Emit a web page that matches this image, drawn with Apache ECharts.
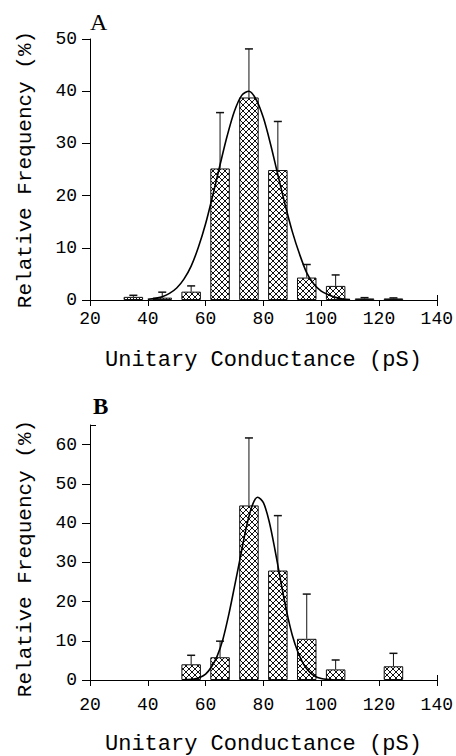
<!DOCTYPE html>
<html><head><meta charset="utf-8">
<script src="https://cdn.jsdelivr.net/npm/echarts@6/dist/echarts.min.js"></script>
<style>html,body{margin:0;padding:0;background:#fff;}#c{width:456px;height:756px;}</style>
</head><body><div id="c"></div>
<script>
// ---- data ----
const xTickValues = [20, 40, 60, 80, 100, 120, 140];
const yTickValuesA = [0, 10, 20, 30, 40, 50];
const yTickValuesB = [0, 10, 20, 30, 40, 50, 60];

const binsA = [35, 45, 55, 65, 75, 85, 95, 105, 115, 125];
const freqA = [0.6, 0.45, 1.6, 25.2, 38.8, 24.9, 4.3, 2.7, 0.3, 0.3];
const errTopA = [0.9, 1.5, 2.7, 35.9, 48.1, 34.2, 6.8, 4.8, 0.45, 0.4];

const binsB = [55, 65, 75, 85, 95, 105, 125];
const freqB = [4.0, 5.8, 44.5, 27.9, 10.5, 2.7, 3.5];
const errTopB = [6.3, 9.9, 61.7, 41.9, 21.9, 5.1, 6.8];

const fitXA = [40, 42.5, 45, 47.5, 50, 52.5, 55, 57.5, 60, 62.5, 65, 67.5, 70, 72.5, 75, 77.5, 80, 82.5, 85, 87.5, 90, 92.5, 95, 97.5, 100, 102.5, 105, 107.5, 110];
const fitYA = [0.14, 0.31, 0.64, 1.26, 2.3, 4.0, 6.5, 10.1, 14.6, 20.1, 25.9, 31.5, 36.2, 39.2, 40.0, 38.4, 34.9, 29.8, 24.0, 18.3, 13.1, 8.8, 5.2, 3.0, 1.7, 1.0, 0.5, 0.2, 0.1];

const fitXB = [52, 54, 56, 58, 60, 62, 64, 66, 68, 70, 72, 74, 76, 78, 80, 82, 84, 86, 88, 90, 92, 94, 96, 98, 100, 102, 104];
const fitYB = [0.03, 0.09, 0.25, 0.65, 1.5, 3.3, 6.1, 10.4, 16.6, 23.8, 31.2, 38.6, 44.2, 46.6, 45.2, 40.4, 33.2, 25.2, 17.6, 11.4, 7.0, 3.9, 2.0, 0.9, 0.4, 0.15, 0.05];

const xTitle = 'Unitary Conductance (pS)';
const yTitle = 'Relative Frequency (%)';
const panelLabels = ['A', 'B'];

// ---- hatch pattern ----
function hatch() {
  const s = 6, c = document.createElement('canvas');
  c.width = s; c.height = s;
  const g = c.getContext('2d');
  g.fillStyle = '#fff'; g.fillRect(0, 0, s, s);
  g.strokeStyle = '#111'; g.lineWidth = 1;
  g.beginPath();
  for (let k = -1; k <= 1; k++) {
    g.moveTo(k * s, 0); g.lineTo(k * s + s, s);
    g.moveTo(k * s + s, 0); g.lineTo(k * s, s);
  }
  g.stroke();
  return c.toDataURL();
}
const pat = { image: hatch(), repeat: 'repeat', imageWidth: 6, imageHeight: 6 };

const MONO = "'Liberation Mono', monospace";
const SERIF = "'Liberation Serif', serif";
const black = '#000';

function xAx(grid, margin, gap) {
  return {
    gridIndex: grid, type: 'value', position: 'bottom', min: 20, max: 140, interval: 20,
    axisLine: { show: true, lineStyle: { color: black, width: 1 } },
    axisTick: { show: true, length: 6, lineStyle: { color: black, width: 1 }, customValues: xTickValues },
    axisLabel: { margin: margin, fontFamily: MONO, fontSize: 18, color: black, customValues: xTickValues },
    splitLine: { show: false },
    name: xTitle, nameLocation: 'middle', nameGap: gap,
    nameTextStyle: { fontFamily: MONO, fontSize: 22, color: black }
  };
}
function xExtra(grid) {
  return { gridIndex: grid, type: 'value', position: 'bottom', min: 20, max: 140,
    axisLine: { show: false }, axisLabel: { show: false }, splitLine: { show: false },
    axisTick: { show: true, inside: true, length: 5, lineStyle: { color: black }, customValues: [140] } };
}
function yAx(grid, max, ticks, pad) {
  return {
    gridIndex: grid, type: 'value', position: 'left', min: 0, max: max, interval: 10,
    axisLine: { show: true, lineStyle: { color: black, width: 1 } },
    axisTick: { show: true, length: 8, lineStyle: { color: black, width: 1 }, customValues: ticks },
    axisLabel: { margin: 13, fontFamily: MONO, fontSize: 18, color: black, customValues: ticks },
    splitLine: { show: false },
    name: yTitle, nameLocation: 'middle', nameGap: 54, nameRotate: 90,
    nameTextStyle: { fontFamily: MONO, fontSize: 21, color: black, padding: pad }
  };
}
function errSeries(xi, yi, bins, freq, tops) {
  return {
    type: 'custom', xAxisIndex: xi, yAxisIndex: yi, z: 3,
    encode: { x: 0, y: 2 },
    data: bins.map((x, i) => [x, freq[i], tops[i]]),
    renderItem: function (p, api) {
      const x = api.value(0);
      const lo = api.coord([x, api.value(1)]);
      const hi = api.coord([x, api.value(2)]);
      const w = 4;
      return {
        type: 'group', children: [
          { type: 'line', shape: { x1: lo[0], y1: lo[1], x2: hi[0], y2: hi[1] }, style: { stroke: '#111', lineWidth: 1 } },
          { type: 'line', shape: { x1: hi[0] - w, y1: hi[1], x2: hi[0] + w, y2: hi[1] }, style: { stroke: '#111', lineWidth: 1.5 } }
        ]
      };
    }
  };
}
function barSeries(xi, yi, bins, freq) {
  return {
    type: 'bar', xAxisIndex: xi, yAxisIndex: yi, z: 2, barWidth: 19.5,
    data: bins.map((x, i) => [x, freq[i]]),
    itemStyle: { color: pat, borderColor: '#111', borderWidth: 1 }
  };
}
function lineSeries(xi, yi, xs, ys) {
  return {
    type: 'line', xAxisIndex: xi, yAxisIndex: yi, z: 4, smooth: 0.3,
    showSymbol: false, symbol: 'none',
    data: xs.map((x, i) => [x, ys[i]]),
    lineStyle: { color: black, width: 1.6 }
  };
}

const chart = echarts.init(document.getElementById('c'), null, { renderer: 'svg' });
chart.setOption({
  animation: false,
  backgroundColor: '#fff',
  title: [
    { text: panelLabels[0], left: 90, top: 10, padding: 0, textStyle: { fontFamily: SERIF, fontSize: 24, fontWeight: 'normal', color: black } },
    { text: panelLabels[1], left: 93, top: 395, padding: 0, textStyle: { fontFamily: SERIF, fontSize: 23, fontWeight: 'bold', color: black } }
  ],
  grid: [
    { left: 90, width: 351, top: 39, height: 261 },
    { left: 90, width: 351, top: 425, height: 261 }
  ],
  xAxis: [
    xAx(0, 10, 49),
    xAx(1, 16, 53),
    xExtra(0),
    xExtra(1)
  ],
  yAxis: [
    yAx(0, 50, yTickValuesA, [0, 0, 0, 0]),
    yAx(1, 65, yTickValuesB, [0, 12, 0, 0]),
    { gridIndex: 1, type: 'value', position: 'left', offset: 0, min: 0, max: 65, axisLine: { show: false }, axisLabel: { show: false }, splitLine: { show: false },
      axisTick: { show: true, inside: true, length: 6, lineStyle: { color: black }, customValues: [65] } }
  ],
  series: [
    barSeries(0, 0, binsA, freqA),
    errSeries(0, 0, binsA, freqA, errTopA),
    lineSeries(0, 0, fitXA, fitYA),
    barSeries(1, 1, binsB, freqB),
    errSeries(1, 1, binsB, freqB, errTopB),
    lineSeries(1, 1, fitXB, fitYB)
  ]
});
</script>
</body></html>
